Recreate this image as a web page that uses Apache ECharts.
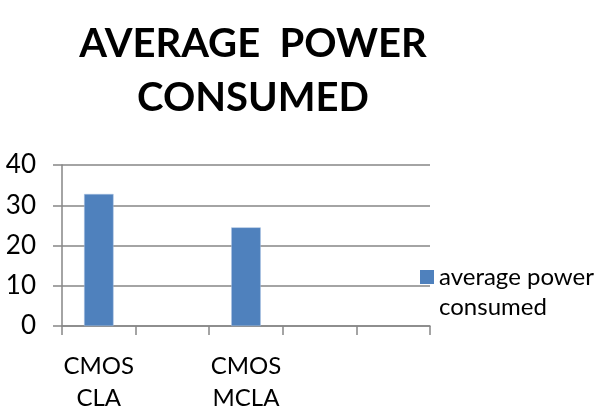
<!DOCTYPE html>
<html>
<head>
<meta charset="utf-8">
<script src="https://cdn.jsdelivr.net/npm/echarts@6/dist/echarts.min.js"></script>
<style>html,body{margin:0;padding:0;background:#fff;}#c{width:597px;height:410px;}</style>
</head>
<body>
<div id="c"></div>
<script>
const titleText = 'AVERAGE  POWER\nCONSUMED';
const categories = ['CMOS\nCLA', '', 'CMOS\nMCLA', '', ''];
const seriesName = 'average power\nconsumed';
const values = [32.8, null, 24.5, null, null];
const yTicks = { min: 0, max: 40, interval: 10 };

const chart = echarts.init(document.getElementById('c'), null, { renderer: 'canvas' });
const font = 'Lato';
chart.setOption({
  animation: false,
  backgroundColor: '#ffffff',
  title: {
    text: titleText,
    left: 248,
    top: 12,
    textAlign: 'center',
    textStyle: { fontFamily: font, fontWeight: 'bold', fontSize: 40, lineHeight: 54, color: '#000' }
  },
  legend: {
    orient: 'vertical',
    left: 415,
    top: 227,
    itemWidth: 14,
    itemHeight: 14,
    itemGap: 6,
    icon: 'rect',
    itemStyle: { borderWidth: 0 },
    formatter: function (name) { return ' \n' + name; },
    textStyle: { fontFamily: font, fontSize: 24, lineHeight: 30, color: '#000' },
    data: [seriesName]
  },
  grid: { left: 62, right: 167, top: 165, bottom: 84, containLabel: false, outerBoundsMode: 'none' },
  xAxis: {
    type: 'category',
    data: categories,
    boundaryGap: true,
    axisLine: { show: true, lineStyle: { color: '#868686', width: 1.5 } },
    axisTick: { show: true, length: 9, lineStyle: { color: '#868686', width: 1.5 } },
    axisLabel: { interval: 0, margin: 24, fontFamily: font, fontSize: 24, lineHeight: 32, color: '#000' },
    splitLine: { show: false }
  },
  yAxis: {
    type: 'value',
    min: yTicks.min, max: yTicks.max, interval: yTicks.interval,
    axisLine: { show: true, lineStyle: { color: '#868686', width: 1.5 } },
    axisTick: { show: true, length: 9, lineStyle: { color: '#868686', width: 1.5 } },
    axisLabel: { margin: 26, fontFamily: font, fontSize: 26, color: '#000' },
    splitLine: { show: true, lineStyle: { color: '#868686', width: 1.5 } }
  },
  series: [{
    name: seriesName,
    type: 'bar',
    data: values,
    barWidth: '40%',
    itemStyle: { color: '#4F81BD', borderColor: '#a9c1e3', borderWidth: 0.5 }
  }]
});
</script>
</body>
</html>
